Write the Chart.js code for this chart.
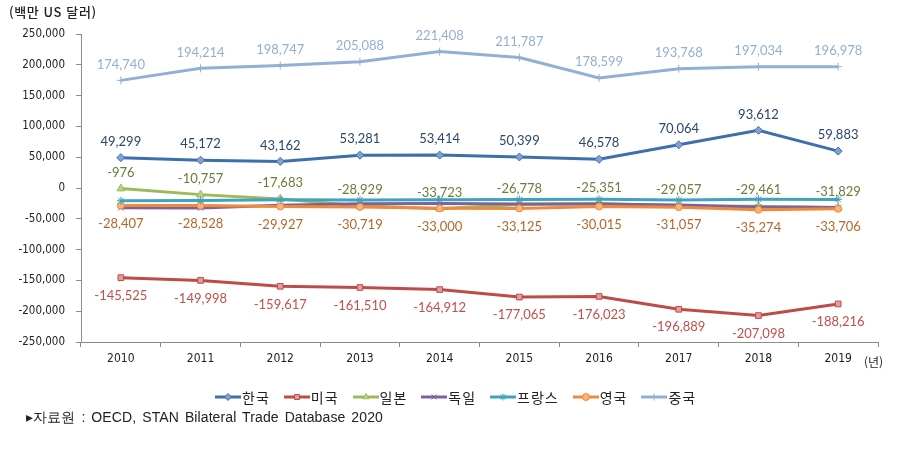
<!DOCTYPE html>
<html lang="ko">
<head>
<meta charset="utf-8">
<script src="https://cdn.jsdelivr.net/npm/chart.js@4/dist/chart.umd.min.js"></script>
<style>
  html, body { margin: 0; padding: 0; background: #fff; }
  #wrap { position: relative; width: 905px; height: 451px; overflow: hidden; }
  #chart { position: absolute; left: 0; top: 0; }
  .note { position: absolute; color: #222; white-space: nowrap; }
  #unit { left: 9px; top: 2px; font: 500 13px "Noto Sans CJK KR", sans-serif; letter-spacing: 0.6px; }
  #year { left: 864px; top: 353px; font: 12px "Noto Sans CJK KR", sans-serif; }
  #source { left: 26px; top: 409px; font: 14px "Liberation Sans Narrow", "Liberation Sans", sans-serif; letter-spacing: 0.1px; word-spacing: 2px; }
  #legend { position: absolute; left: 215px; top: 387px; display: flex; align-items: center;
            font: 14px "Noto Sans CJK KR", sans-serif; color: #222; }
  #legend .item { display: flex; align-items: center; margin-right: 14px; }
  #legend span { letter-spacing: 1px; }
  #legend canvas { margin-right: 1px; }
</style>
</head>
<body>
<div id="wrap">
  <canvas id="chart" width="905" height="451"></canvas>
  <div class="note" id="unit">(백만 US 달러)</div>
  <div class="note" id="year">(년)</div>
  <div id="legend"></div>
  <div class="note" id="source">▸자료원 : OECD, STAN Bilateral Trade Database 2020</div>
</div>
<script>
// Categories
const YEARS = ['2010', '2011', '2012', '2013', '2014', '2015', '2016', '2017', '2018', '2019'];

// Trade balance (million USD)
const KOREA   = [49299, 45172, 43162, 53281, 53414, 50399, 46578, 70064, 93612, 59883];
const USA     = [-145525, -149998, -159617, -161510, -164912, -177065, -176023, -196889, -207098, -188216];
const JAPAN   = [-976, -10757, -17683, -28929, -33723, -26778, -25351, -29057, -29461, -31829];
const GERMANY = [-32000, -32500, -28000, -25500, -25000, -26000, -26000, -27500, -31000, -31500];
const FRANCE  = [-20600, -20300, -18900, -19600, -19200, -18500, -18300, -19500, -18200, -18500];
const UK      = [-28407, -28528, -29927, -30719, -33000, -33125, -30015, -31057, -35274, -33706];
const CHINA   = [174740, 194214, 198747, 205088, 221408, 211787, 178599, 193768, 197034, 196978];

// Y axis ticks
const Y_MIN = -250000;
const Y_MAX = 250000;
const Y_STEP = 50000;

const fmt = v => v.toLocaleString('en-US');

// Series styling (label position: 'above' / 'below' / null)
const SERIES = [
  { name: '한국',   data: KOREA,   color: '#3F6EAD', fill: '#7FA4D4', style: 'rectRot',  radius: 4, labelPos: 'above', labelColor: '#2A4671', order: 2 },
  { name: '미국',   data: USA,     color: '#BE4B48', fill: '#E59C9A', style: 'rect',     radius: 4, labelPos: 'below', labelColor: '#C0504D', order: 3 },
  { name: '일본',   data: JAPAN,   color: '#9BBB59', fill: '#B9D27F', style: 'triangle', radius: 4.5, labelPos: 'above', labelColor: '#687E38', order: 6 },
  { name: '독일',   data: GERMANY, color: '#7E62A0', fill: '#7E62A0', style: 'crossRot', radius: 4, labelPos: null, labelColor: null, order: 5 },
  { name: '프랑스', data: FRANCE,  color: '#3FA2BE', fill: '#3FA2BE', style: 'star',     radius: 4, labelPos: null, labelColor: null, order: 1 },
  { name: '영국',   data: UK,      color: '#F08A3A', fill: '#F9B27C', style: 'circle',   radius: 3.5, labelPos: 'below', labelColor: '#B5672A', order: 4 },
  { name: '중국',   data: CHINA,   color: '#93AFD6', fill: '#93AFD6', style: 'cross',    radius: 4, labelPos: 'above', labelColor: '#93AFD6', order: 7 }
];

// Draw value labels next to the points
const valueLabels = {
  id: 'valueLabels',
  afterDatasetsDraw(chart) {
    const ctx = chart.ctx;
    ctx.save();
    ctx.font = '13px Lato, "Liberation Sans", sans-serif';
    ctx.textAlign = 'center';
    ctx.textBaseline = 'middle';
    chart.data.datasets.forEach((ds, i) => {
      const s = SERIES[i];
      if (!s.labelPos) return;
      const meta = chart.getDatasetMeta(i);
      ctx.fillStyle = s.labelColor;
      meta.data.forEach((pt, j) => {
        const dy = s.labelPos === 'above' ? -16 : 18;
        ctx.fillText(fmt(ds.data[j]), pt.x, pt.y + dy);
      });
    });
    ctx.restore();
  }
};

const datasets = SERIES.map(s => ({
  label: s.name,
  data: s.data,
  borderColor: s.color,
  backgroundColor: s.fill,
  borderWidth: 3,
  pointStyle: s.style,
  pointRadius: s.radius,
  pointBorderColor: s.color,
  pointBackgroundColor: s.fill,
  pointBorderWidth: 1,
  tension: 0,
  fill: false,
  order: s.order
}));

const chart = new Chart(document.getElementById('chart'), {
  type: 'line',
  data: { labels: YEARS, datasets },
  options: {
    responsive: false,
    animation: false,
    layout: { padding: { top: 34, right: 27, bottom: 0, left: 0 } },
    plugins: {
      legend: { display: false },
      tooltip: { enabled: false }
    },
    scales: {
      x: {
        offset: true,
        grid: { offset: true, drawOnChartArea: false, tickLength: 5, color: '#8C8C8C' },
        border: { color: '#8C8C8C', width: 1 },
        ticks: {
          padding: 5,
          color: '#222',
          font: { family: '"Liberation Sans Narrow", "DejaVu Sans Condensed", sans-serif', size: 12 }
        },
        afterFit(scale) { scale.height = 109; }
      },
      y: {
        min: Y_MIN,
        max: Y_MAX,
        grid: { drawOnChartArea: false, tickLength: 5, color: '#8C8C8C' },
        border: { color: '#8C8C8C', width: 1 },
        ticks: {
          stepSize: Y_STEP,
          padding: 11,
          color: '#222',
          font: { family: '"DejaVu Sans Condensed", "Liberation Sans", sans-serif', size: 11.5 },
          callback: v => fmt(v)
        },
        afterFit(scale) { scale.width = 81; }
      }
    }
  },
  plugins: [valueLabels]
});

// Legend with line + marker swatches
const legendEl = document.getElementById('legend');
SERIES.forEach(s => {
  const item = document.createElement('div');
  item.className = 'item';
  const c = document.createElement('canvas');
  c.width = 26; c.height = 12;
  const g = c.getContext('2d');
  g.strokeStyle = s.color;
  g.lineWidth = 3;
  g.beginPath(); g.moveTo(0, 6); g.lineTo(26, 6); g.stroke();
  g.fillStyle = s.fill;
  g.strokeStyle = s.color;
  g.lineWidth = 1;
  if (Chart.helpers && Chart.helpers.drawPoint) {
    Chart.helpers.drawPoint(g, { pointStyle: s.style, radius: 3.5, rotation: 0, borderWidth: 1 }, 13, 6);
  }
  const t = document.createElement('span');
  t.textContent = s.name;
  item.appendChild(c);
  item.appendChild(t);
  legendEl.appendChild(item);
});
</script>
</body>
</html>
